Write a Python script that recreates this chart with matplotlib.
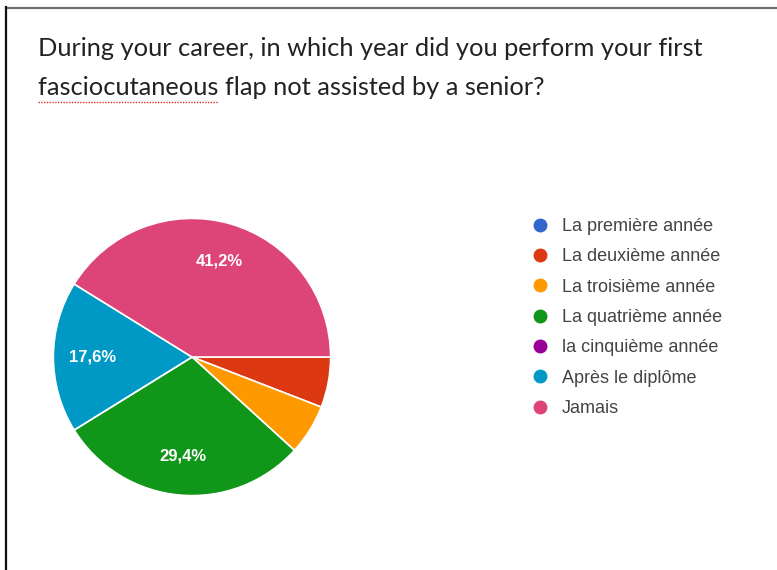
import matplotlib.pyplot as plt
from matplotlib.lines import Line2D

# survey answers (counts out of 17 respondents)
categories = ["La première année", "La deuxième année", "La troisième année",
              "La quatrième année", "la cinquième année", "Après le diplôme", "Jamais"]
counts = [0, 1, 1, 5, 0, 3, 7]
colors = ["#3366CC", "#DC3912", "#FF9900", "#109618", "#990099", "#0099C6", "#DD4477"]

title_lines = ["During your career, in which year did you perform your first",
               "fasciocutaneous flap not assisted by a senior?"]

W, H = 777, 570
fig = plt.figure(figsize=(W / 100, H / 100), dpi=100)
fig.patch.set_facecolor("white")

# frame lines (top and left)
fig.add_artist(Line2D([6 / W, 1], [1 - 7.5 / H, 1 - 7.5 / H], color="#6f6f6f", lw=1.6))
fig.add_artist(Line2D([6 / W, 6 / W], [0, 1 - 7 / H], color="#111111", lw=1.6))

# title
title_kw = dict(fontsize=18.3, family="Lato", color="#222222", va="baseline")
fig.text(38 / W, 1 - 56 / H, title_lines[0], **title_kw)
fig.text(38 / W, 1 - 95 / H, title_lines[1], **title_kw)

# red spell-check squiggle under first word of line 2
probe = fig.text(38 / W, 1 - 95 / H, "fasciocutaneous", alpha=0,
                 **{k: v for k, v in title_kw.items() if k != "color"})
fig.canvas.draw()
bb = probe.get_window_extent(fig.canvas.get_renderer())
fig.add_artist(Line2D([bb.x0 / W, bb.x1 / W], [1 - 102 / H, 1 - 102 / H],
                      color="#e03030", lw=1.0, ls=(0, (1, 1))))

# pie
ax = fig.add_axes([52 / W, (H - 497) / H, 280 / W, 280 / H])


def pct_label(p):
    return ("%.1f%%" % p).replace(".", ",") if p >= 10 else ""


wedges, texts, autotexts = ax.pie(
    counts, colors=colors, startangle=0, counterclock=False, radius=1,
    autopct=pct_label, pctdistance=0.72,
    wedgeprops=dict(edgecolor="white", linewidth=1.2),
    textprops=dict(color="white", fontsize=12, fontweight="bold", family="Liberation Sans"))
ax.set_xlim(-1.01, 1.01)
ax.set_ylim(-1.01, 1.01)
ax.set_aspect("equal")

# legend
handles = [Line2D([0], [0], marker="o", ls="none", markersize=9,
                  markerfacecolor=c, markeredgecolor=c) for c in colors]
leg = fig.legend(handles, categories, loc="upper left",
                 bbox_to_anchor=(531 / W, 1 - 218 / H), frameon=False,
                 labelspacing=0.74, handletextpad=0.7,
                 handlelength=1.0, borderaxespad=0, borderpad=0,
                 prop=dict(family="Liberation Sans", size=13))
for txt in leg.get_texts():
    txt.set_color("#444444")

fig.savefig("out.png", dpi=100, facecolor="white")
